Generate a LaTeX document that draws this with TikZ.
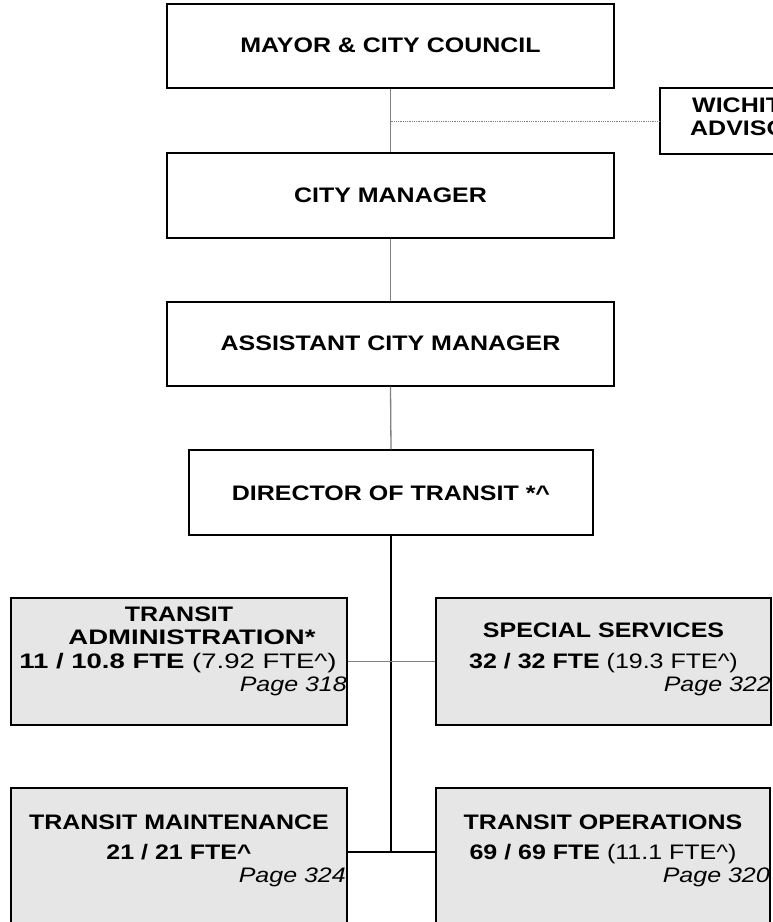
\documentclass[tikz,border=0pt]{standalone}
\usepackage{fontspec}
\setmainfont{Liberation Sans}
\newfontfamily\wf[FakeStretch=1.19]{Liberation Sans}
\newfontfamily\wfw[FakeStretch=1.31]{Liberation Sans}
\definecolor{boxgray}{RGB}{230,230,230}
\definecolor{linegray}{RGB}{128,128,128}
\begin{document}
\begin{tikzpicture}[x=1pt,y=-1pt,
  txt/.style={font=\wf\fontsize{21}{24}\selectfont\bfseries, inner sep=0pt, anchor=base},
  rtxt/.style={font=\wf\fontsize{21}{24}\selectfont, inner sep=0pt, anchor=base},
  widetxt/.style={font=\wfw\fontsize{21}{24}\selectfont, inner sep=0pt, anchor=base},
  pagetxt/.style={font=\wf\fontsize{21}{24}\selectfont\itshape, inner sep=0pt, anchor=base east},
  whitebox/.style={draw=black, line width=1.3pt, fill=white, inner sep=0pt},
  graybox/.style={draw=black, line width=1.3pt, fill=boxgray, inner sep=0pt},
  thinlink/.style={draw=linegray, line width=1.3pt},
  mainlink/.style={draw=black, line width=1.8pt},
]
\path[use as bounding box] (0,0) rectangle (773,922);
\clip (0,0) rectangle (773,922);
\fill[white] (0,0) rectangle (773,922);

\node[whitebox, minimum width=447pt, minimum height=84pt] (mayor) at (390.5,46) {};
\node[whitebox, minimum width=447pt, minimum height=85pt] (cm) at (390.5,195.5) {};
\node[whitebox, minimum width=447pt, minimum height=84pt] (acm) at (390.5,344) {};
\node[whitebox, minimum width=404pt, minimum height=85pt] (dir) at (391,492.5) {};
\node[whitebox, minimum width=260pt, minimum height=66pt] (wich) at (790,121) {};

\node[graybox, minimum width=336pt, minimum height=127pt] (admin) at (179,661.5) {};
\node[graybox, minimum width=335pt, minimum height=127pt] (spec) at (603.5,661.5) {};
\node[graybox, minimum width=336pt, minimum height=160pt] (maint) at (179,868) {};
\node[graybox, minimum width=334pt, minimum height=160pt] (ops) at (603,868) {};

\draw[thinlink] (mayor.south) -- (cm.north);
\draw[thinlink] (cm.south) -- (acm.north);
\draw[thinlink] (acm.south) -- (dir.north);
\draw[draw=linegray, line width=0.8pt, densely dotted] (mayor.south |- wich.west) -- (wich.west);
\coordinate (bottom) at (dir.south |- 0,852);
\draw[mainlink] (dir.south) -- (bottom);
\draw[draw=linegray, line width=1.1pt] (admin.east) -- (spec.west);
\draw[draw=black, line width=1.3pt] (maint.east |- bottom) -- (ops.west |- bottom);

% texts
\node[txt] (t1) at (390.5,52.5) {MAYOR \& CITY COUNCIL};
\node[txt] (t2) at (390.5,202) {CITY MANAGER};
\node[txt] (t3) at (390.5,350.5) {ASSISTANT CITY MANAGER};
\node[txt] (t4) at (391,500) {DIRECTOR OF TRANSIT *\^{}};
\node[txt, anchor=base west] (t5) at (692,112) {WICHITA TRANSIT};
\node[txt, anchor=base west] (t6) at (690,135) {ADVISORY BOARD};

\node[txt] (a1) at (179,621.5) {TRANSIT};
\node[widetxt] (a2) at (192,644.5) {\bfseries ADMINISTRATION*};
\node[widetxt] (a3) at (178,668.5) {\textbf{11 / 10.8 FTE} (7.92 FTE\^{})};
\node[pagetxt] (a4) at (347,691.5) {Page 318};

\node[txt] (s1) at (603.5,637.5) {SPECIAL SERVICES};
\node[rtxt] (s2) at (603.5,668.5) {\textbf{32 / 32 FTE} (19.3 FTE\^{})};
\node[pagetxt] (s4) at (771,691.5) {Page 322};

\node[txt] (m1) at (179,829.5) {TRANSIT MAINTENANCE};
\node[txt] (m2) at (179,859.5) {21 / 21 FTE\^{}};
\node[pagetxt] (m4) at (346,882.5) {Page 324};

\node[txt] (o1) at (603,829.5) {TRANSIT OPERATIONS};
\node[rtxt] (o2) at (603,859.5) {\textbf{69 / 69 FTE} (11.1 FTE\^{})};
\node[pagetxt] (o4) at (770,882.5) {Page 320};
\end{tikzpicture}
\end{document}
